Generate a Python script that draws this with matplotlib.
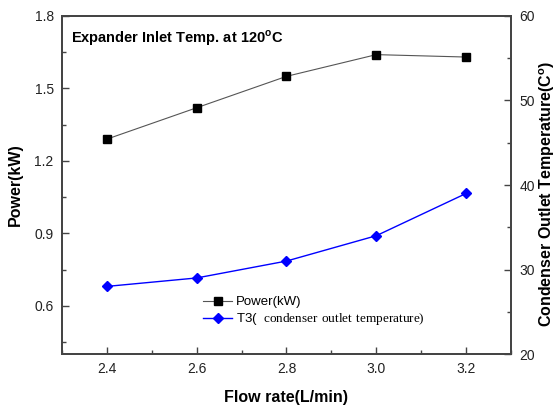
import matplotlib
matplotlib.use("Agg")
import matplotlib.pyplot as plt
from matplotlib.ticker import MultipleLocator

plt.rcParams['font.family'] = ['Liberation Sans', 'DejaVu Sans']
plt.rcParams['mathtext.fontset'] = 'custom'
plt.rcParams['mathtext.rm'] = 'Liberation Serif'
plt.rcParams['mathtext.bf'] = 'Liberation Sans:bold'

flow_rate = [2.4, 2.6, 2.8, 3.0, 3.2]
power_kw = [1.29, 1.42, 1.55, 1.64, 1.63]
t3_temp = [28, 29, 31, 34, 39]

fig = plt.figure(figsize=(5.6, 4.07), dpi=100)
ax = fig.add_axes([0.1107, 0.1302, 0.8018, 0.8305])
ax2 = ax.twinx()

l1, = ax.plot(flow_rate, power_kw, color='#555555', lw=0.8, marker='s',
              markersize=5.5, markerfacecolor='black', markeredgecolor='black',
              label='Power(kW)')
l2, = ax2.plot(flow_rate, t3_temp, color='blue', lw=1.0, marker='D',
               markersize=5.5, markerfacecolor='blue', markeredgecolor='blue',
               label=r'T3(  $\mathrm{condenser\ outlet\ temperature)}$')

ax.set_xlim(2.3, 3.3)
ax.set_ylim(0.4, 1.8)
ax2.set_ylim(20, 60)

ax.xaxis.set_major_locator(MultipleLocator(0.2))
ax.xaxis.set_minor_locator(MultipleLocator(0.1))
ax.yaxis.set_major_locator(MultipleLocator(0.3))
ax.yaxis.set_minor_locator(MultipleLocator(0.15))
ax2.yaxis.set_major_locator(MultipleLocator(10))
ax2.yaxis.set_minor_locator(MultipleLocator(5))

ax.set_yticks([0.6, 0.9, 1.2, 1.5, 1.8])
ax.set_xticklabels([f'{v:.1f}' for v in ax.get_xticks()])

for a in (ax, ax2):
    for s in a.spines.values():
        s.set_color('#444444')
        s.set_linewidth(1.3)
ax.tick_params(axis='both', which='both', direction='in', top=False,
               right=False, colors='#444444', labelcolor='#222222', labelsize=10)
ax.tick_params(which='major', length=5, width=1, pad=6)
ax.tick_params(which='minor', length=3, width=1)
ax2.tick_params(axis='y', which='both', direction='in', colors='#444444',
                labelcolor='#222222', labelsize=10)
ax2.tick_params(which='major', length=5, width=1, pad=6)
ax2.tick_params(which='minor', length=3, width=1)
ax2.set_yticks([20, 30, 40, 50, 60])

ax.set_xlabel('Flow rate(L/min)', fontsize=11.5, fontweight='bold', labelpad=10)
ax.set_ylabel('Power(kW)', fontsize=11.5, fontweight='bold', labelpad=8)
fig.text(0.977, 0.525, r'Condenser Outlet Temperature(C$^{\mathbf{o}}$)',
         rotation=90, ha='center', va='center', fontsize=11.5, fontweight='bold')

ax.text(0.02, 0.935, r'Expander Inlet Temp. at 120$^{\mathbf{o}}$C',
        transform=ax.transAxes, fontsize=10.5, fontweight='bold', va='center')

ax.legend(handles=[l1, l2], loc='lower left', bbox_to_anchor=(0.3, 0.06),
          frameon=False, fontsize=9.5, handlelength=2.2, handletextpad=0.3,
          labelspacing=0.2, borderpad=0)

fig.savefig('out.png', dpi=100)
